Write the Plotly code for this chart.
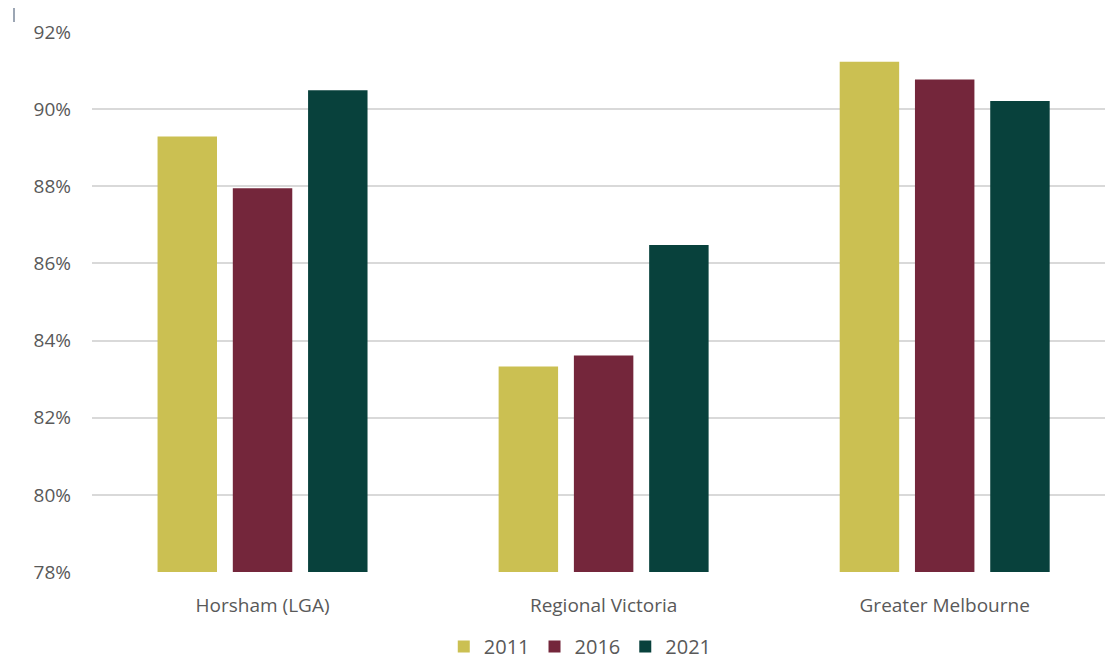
import plotly.graph_objects as go

regions = ["Horsham (LGA)", "Regional Victoria", "Greater Melbourne"]
years = ["2011", "2016", "2021"]
share_2011 = [89.29, 83.33, 91.23]
share_2016 = [87.95, 83.61, 90.77]
share_2021 = [90.49, 86.48, 90.21]
colors = ["#CBC052", "#74263B", "#08413C"]
y_ticks = [78, 80, 82, 84, 86, 88, 90, 92]

fig = go.Figure()
for year, vals, col in zip(years, [share_2011, share_2016, share_2021], colors):
    fig.add_trace(go.Bar(
        name=year, x=regions, y=vals,
        marker=dict(color=col, line=dict(width=0)),
    ))

font_family = "Open Sans, Lato, Liberation Sans, sans-serif"
fig.update_layout(
    width=1105, height=666,
    margin=dict(l=92, r=0, t=32, b=94, autoexpand=False),
    paper_bgcolor="white", plot_bgcolor="white",
    barmode="group", bargap=0.338, bargroupgap=0.21,
    font=dict(family=font_family, color="#595959", size=19),
    showlegend=True,
    legend=dict(orientation="h", x=0.482, xanchor="center",
                yref="container", y=0.0, yanchor="bottom",
                font=dict(size=20, color="#595959"), itemwidth=30,
                traceorder="normal"),
    xaxis=dict(range=[-0.5, 2.47], showgrid=False, showline=False, zeroline=False,
               ticks="", tickfont=dict(size=19, color="#595959"), ticklabelstandoff=20,
               automargin=False),
    yaxis=dict(range=[78, 92], tickvals=y_ticks,
               ticktext=[f"{v}%" for v in y_ticks],
               showgrid=True, gridcolor="#D9D9D9", gridwidth=1.5,
               showline=False, zeroline=False, ticks="",
               tickfont=dict(size=19, color="#595959"), ticklabelstandoff=20,
               automargin=False),
)

# small caret mark at the top-left corner
fig.add_shape(type="line", xref="paper", yref="paper",
              x0=-78 / 1013, x1=-78 / 1013, y0=1 + 10 / 540, y1=1 + 24 / 540,
              line=dict(color="#5A6B82", width=1.2))

fig.write_html("out.html")
